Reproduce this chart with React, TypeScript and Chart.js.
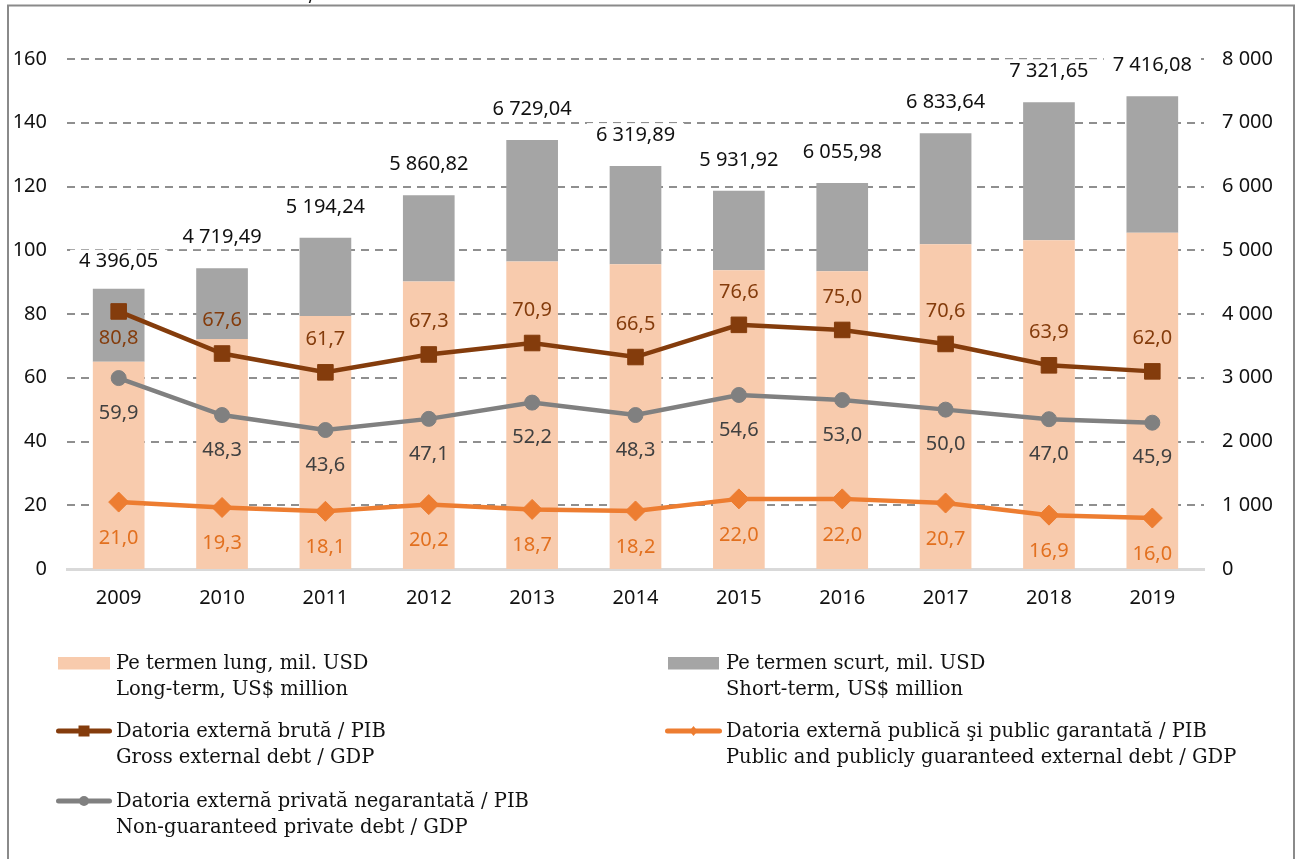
import React, { useEffect, useRef } from 'react';
import { Chart, registerables } from 'chart.js';

Chart.register(...registerables);

const years = ['2009', '2010', '2011', '2012', '2013', '2014', '2015', '2016', '2017', '2018', '2019'];
const longTerm = [3251, 3606, 3968, 4508, 4822, 4780, 4686, 4670, 5093, 5157, 5273];
const shortTerm = [1145.05, 1113.49, 1226.24, 1352.82, 1907.04, 1539.89, 1245.92, 1385.98, 1740.64, 2164.65, 2143.08];
const totals = [4396.05, 4719.49, 5194.24, 5860.82, 6729.04, 6319.89, 5931.92, 6055.98, 6833.64, 7321.65, 7416.08];
const grossDebt = [80.8, 67.6, 61.7, 67.3, 70.9, 66.5, 76.6, 75.0, 70.6, 63.9, 62.0];
const privateDebt = [59.9, 48.3, 43.6, 47.1, 52.2, 48.3, 54.6, 53.0, 50.0, 47.0, 45.9];
const publicDebt = [21.0, 19.3, 18.1, 20.2, 18.7, 18.2, 22.0, 22.0, 20.7, 16.9, 16.0];

const leftMax = 160;
const leftStep = 20;
const rightMax = 8000;
const rightStep = 1000;

const legendTexts = {
  longTerm: ['Pe termen lung, mil. USD', 'Long-term, US$ million'],
  shortTerm: ['Pe termen scurt, mil. USD', 'Short-term, US$ million'],
  gross: ['Datoria externă brută / PIB', 'Gross external debt / GDP'],
  public: ['Datoria externă publică şi public garantată / PIB', 'Public and publicly guaranteed external debt / GDP'],
  private: ['Datoria externă privată negarantată / PIB', 'Non-guaranteed private debt / GDP'],
};

const C_LONG = '#F8CBAD';
const C_SHORT = '#A5A5A5';
const C_GROSS = '#843C0C';
const C_PRIVATE = '#808080';
const C_PUBLIC = '#ED7D31';

const SANS = '"Noto Sans", "Open Sans", sans-serif';
const SERIF = '"DejaVu Serif", "Liberation Serif", serif';

function thousands(intStr: string) {
  return intStr.replace(/\B(?=(\d{3})+(?!\d))/g, ' ');
}
function fmtTotal(v: number) {
  const [i, d] = v.toFixed(2).split('.');
  return thousands(i) + ',' + d;
}
function fmtPct(v: number) {
  return v.toFixed(1).replace('.', ',');
}

const overlayPlugin = {
  id: 'overlay',
  beforeDraw(chart: any) {
    const ctx = chart.ctx;
    ctx.save();
    ctx.fillStyle = '#ffffff';
    ctx.fillRect(0, 0, chart.width, chart.height);
    ctx.strokeStyle = '#8a8a8a';
    ctx.lineWidth = 2;
    ctx.strokeRect(8, 5.5, 1286, 900);
    // cut-off fragment of the title above the frame
    ctx.fillStyle = '#111';
    ctx.font = `20px ${SERIF}`;
    ctx.textAlign = 'center';
    ctx.textBaseline = 'alphabetic';
    ctx.fillText('/', 312, 1);
    ctx.restore();
  },
  afterDatasetsDraw(chart: any) {
    const ctx = chart.ctx;
    ctx.save();
    ctx.textAlign = 'center';
    ctx.textBaseline = 'middle';
    // totals above the stacked bars
    const topMeta = chart.getDatasetMeta(4);
    ctx.font = `20px ${SANS}`;
    topMeta.data.forEach((el: any, i: number) => {
      const txt = fmtTotal(totals[i]);
      const y = el.y - (i === 0 ? 27 : 31);
      const w = ctx.measureText(txt).width;
      ctx.fillStyle = '#ffffff';
      ctx.fillRect(el.x - w / 2 - 9, y - 12, w + 18, 24);
      ctx.fillStyle = '#111';
      ctx.fillText(txt, el.x, y);
    });
    // line labels
    ctx.font = `20px ${SANS}`;
    const specs = [
      { idx: 0, values: grossDebt, color: C_GROSS },
      { idx: 1, values: privateDebt, color: '#404040' },
      { idx: 2, values: publicDebt, color: '#E2701F' },
    ];
    specs.forEach((s) => {
      const meta = chart.getDatasetMeta(s.idx);
      meta.data.forEach((el: any, i: number) => {
        let dy = 35;
        if (s.idx === 0) dy = i === 0 ? 27 : -33;
        if (s.idx === 2) dy = 36;
        ctx.fillStyle = s.color;
        ctx.fillText(fmtPct(s.values[i]), el.x, el.y + dy);
      });
    });
    ctx.restore();
  },
  afterDraw(chart: any) {
    const ctx = chart.ctx;
    ctx.save();
    ctx.font = `19.5px ${SERIF}`;
    ctx.textBaseline = 'alphabetic';
    ctx.textAlign = 'left';
    const drawText = (lines: string[], x: number, baseline: number) => {
      ctx.fillStyle = '#111';
      ctx.fillText(lines[0], x, baseline);
      ctx.fillText(lines[1], x, baseline + 26);
    };
    const drawBox = (x0: number, x1: number, y: number, color: string) => {
      ctx.fillStyle = color;
      ctx.fillRect(x0, y - 6, x1 - x0, 12.5);
    };
    const drawLine = (x0: number, x1: number, y: number, color: string, marker: string) => {
      ctx.strokeStyle = color;
      ctx.lineWidth = 5;
      ctx.lineCap = 'round';
      ctx.beginPath();
      ctx.moveTo(x0 + 2.5, y);
      ctx.lineTo(x1 - 2.5, y);
      ctx.stroke();
      const cx = (x0 + x1) / 2;
      ctx.fillStyle = color;
      ctx.beginPath();
      if (marker === 'rect') {
        ctx.rect(cx - 5.5, y - 5.5, 11, 11);
      } else if (marker === 'circle') {
        ctx.arc(cx, y, 5, 0, Math.PI * 2);
      } else {
        ctx.moveTo(cx, y - 5);
        ctx.lineTo(cx + 4, y);
        ctx.lineTo(cx, y + 5);
        ctx.lineTo(cx - 4, y);
        ctx.closePath();
      }
      ctx.fill();
    };
    // row baselines of the first text line
    const b1 = 669, b2 = 737, b3 = 807;
    drawBox(58, 110, 663, C_LONG);
    drawText(legendTexts.longTerm, 116, b1);
    drawBox(668, 719, 663, C_SHORT);
    drawText(legendTexts.shortTerm, 726, b1);
    drawLine(56, 112, 731, C_GROSS, 'rect');
    drawText(legendTexts.gross, 116, b2);
    drawLine(665, 722, 731, C_PUBLIC, 'diamond');
    drawText(legendTexts.public, 726, b2);
    drawLine(56, 112, 801, C_PRIVATE, 'circle');
    drawText(legendTexts.private, 116, b3);
    ctx.restore();
  },
};

export default function App() {
  const canvasRef = useRef<HTMLCanvasElement | null>(null);

  useEffect(() => {
    if (!canvasRef.current) return;
    Chart.defaults.font.family = SANS;
    const chart = new Chart(canvasRef.current, {
      type: 'bar',
      data: {
        labels: years,
        datasets: [
          {
            type: 'line',
            label: legendTexts.gross[0],
            data: grossDebt,
            yAxisID: 'y',
            borderColor: C_GROSS,
            backgroundColor: C_GROSS,
            borderWidth: 4.5,
            pointStyle: 'rect',
            pointRadius: 11,
            pointBorderWidth: 1,
            pointBackgroundColor: C_GROSS,
            pointBorderColor: C_GROSS,
            order: 0,
          },
          {
            type: 'line',
            label: legendTexts.private[0],
            data: privateDebt,
            yAxisID: 'y',
            borderColor: C_PRIVATE,
            backgroundColor: C_PRIVATE,
            borderWidth: 4.5,
            pointStyle: 'circle',
            pointRadius: 7.5,
            pointBorderWidth: 1,
            pointBackgroundColor: C_PRIVATE,
            pointBorderColor: C_PRIVATE,
            order: 0,
          },
          {
            type: 'line',
            label: legendTexts.public[0],
            data: publicDebt,
            yAxisID: 'y',
            borderColor: C_PUBLIC,
            backgroundColor: C_PUBLIC,
            borderWidth: 4.5,
            pointStyle: 'rectRot',
            pointRadius: 10,
            pointBorderWidth: 1,
            pointBackgroundColor: C_PUBLIC,
            pointBorderColor: C_PUBLIC,
            order: 0,
          },
          {
            type: 'bar',
            label: legendTexts.longTerm[0],
            data: longTerm,
            yAxisID: 'y1',
            backgroundColor: C_LONG,
            barPercentage: 0.5,
            categoryPercentage: 1,
            stack: 'debt',
            order: 1,
          },
          {
            type: 'bar',
            label: legendTexts.shortTerm[0],
            data: shortTerm,
            yAxisID: 'y1',
            backgroundColor: C_SHORT,
            barPercentage: 0.5,
            categoryPercentage: 1,
            stack: 'debt',
            order: 1,
          },
        ],
      },
      options: {
        animation: false,
        responsive: true,
        maintainAspectRatio: false,
        devicePixelRatio: 1,
        layout: { padding: { top: 59, left: 0, right: 0, bottom: 0 } },
        plugins: {
          legend: { display: false },
          tooltip: { enabled: false },
          title: { display: false },
        },
        scales: {
          x: {
            stacked: true,
            grid: { display: false, drawTicks: false },
            border: { display: true, color: '#d9d9d9', width: 3 },
            ticks: { padding: 17, color: '#111', font: { size: 20, family: SANS } },
            afterFit: (s: any) => { s.height = 290; },
          },
          y: {
            position: 'left',
            min: 0,
            max: leftMax,
            stacked: false,
            grid: {
              drawTicks: false,
              lineWidth: 2,
              color: (c: any) => (c.tick && c.tick.value === 0 ? 'rgba(0,0,0,0)' : '#8f8f8f'),
            },
            border: { display: false, dash: [8, 6] },
            ticks: { stepSize: leftStep, padding: 20, color: '#111', font: { size: 20, family: SANS } },
            afterFit: (s: any) => { s.width = 67; },
          },
          y1: {
            position: 'right',
            min: 0,
            max: rightMax,
            stacked: true,
            grid: { display: false, drawTicks: false },
            border: { display: false },
            ticks: {
              stepSize: rightStep,
              padding: 18,
              color: '#111',
              font: { size: 20, family: SANS },
              callback: (v: any) => thousands(String(v)),
            },
            afterFit: (s: any) => { s.width = 97; },
          },
        },
      },
      plugins: [overlayPlugin],
    });
    let alive = true;
    const fonts: any = (document as any).fonts;
    if (fonts && fonts.load) {
      Promise.all([
        fonts.load('20px "Noto Sans"'),
        fonts.load('20px "DejaVu Serif"'),
      ])
        .catch(() => null)
        .then(() => {
          if (alive) chart.update();
        });
    }
    return () => {
      alive = false;
      chart.destroy();
    };
  }, []);

  return (
    <div style={{ position: 'absolute', left: 0, top: 0, width: 1301, height: 859 }}>
      <canvas ref={canvasRef} style={{ width: '100%', height: '100%' }} />
      <span
        aria-hidden="true"
        style={{ position: 'absolute', left: -9999, top: 0, fontFamily: '"Noto Sans"', visibility: 'hidden' }}
      >
        0
      </span>
      <span
        aria-hidden="true"
        style={{ position: 'absolute', left: -9999, top: 0, fontFamily: '"DejaVu Serif"', visibility: 'hidden' }}
      >
        P
      </span>
    </div>
  );
}
